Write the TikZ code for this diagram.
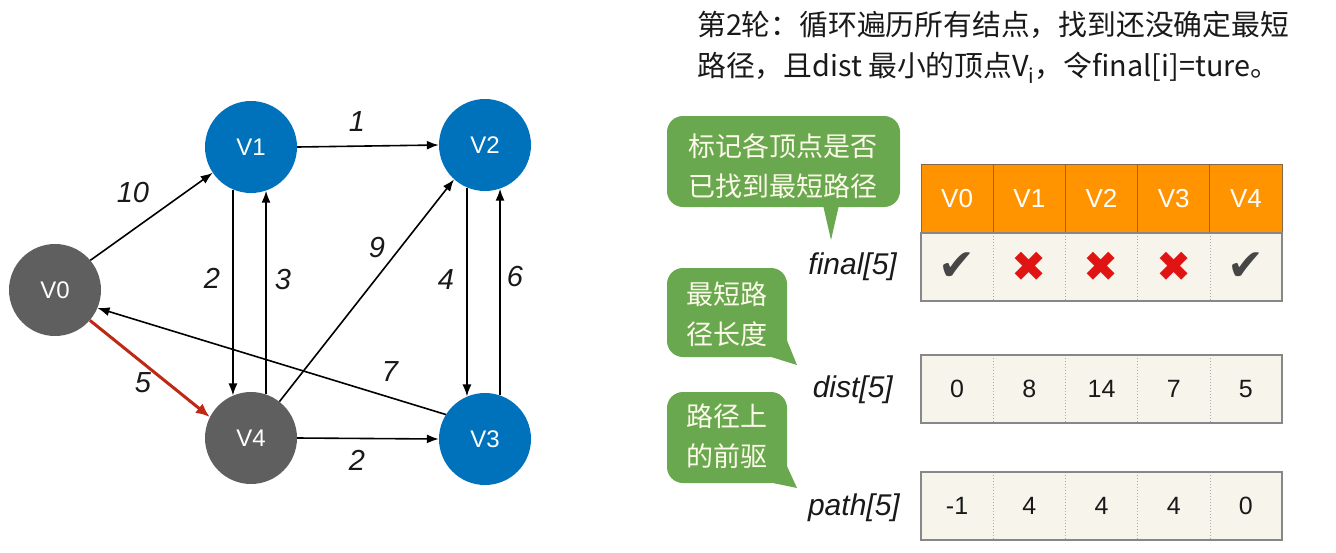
\documentclass[tikz,border=0pt]{standalone}
\usepackage{fontspec}
\setmainfont{Liberation Sans}
\newfontfamily\cjk{Noto Sans CJK SC}
\newfontfamily\symf{DejaVu Sans}
\usetikzlibrary{arrows.meta}
\definecolor{nodeblue}{RGB}{0,114,188}
\definecolor{nodegray}{RGB}{95,95,95}
\definecolor{bubblegreen}{RGB}{106,168,79}
\definecolor{hdrorange}{RGB}{255,147,0}
\definecolor{cellcream}{RGB}{246,244,235}
\definecolor{edgered}{RGB}{190,40,20}
\definecolor{crossred}{RGB}{225,20,20}
\definecolor{checkgray}{RGB}{70,70,70}
\definecolor{bordergray}{RGB}{135,135,135}
\definecolor{hdrline}{RGB}{130,105,70}
\definecolor{bubbletext}{RGB}{252,250,232}
\definecolor{inktext}{RGB}{25,25,25}
\begin{document}
\begin{tikzpicture}[x=1pt,y=-1pt,
 vtx/.style={circle,minimum size=92pt,inner sep=0pt,text=white,font=\fontsize{24}{24}\selectfont},
 bluev/.style={vtx,fill=nodeblue},
 grayv/.style={vtx,fill=nodegray},
 edge/.style={-{Latex[length=12pt,width=9pt]},line width=1.6pt,black},
 rededge/.style={-{Latex[length=14pt,width=12pt]},line width=3pt,edgered},
 wlabel/.style={font=\fontsize{29}{29}\selectfont\itshape,text=inktext,inner sep=0pt},
 cell/.style={minimum width=72.2pt,minimum height=68pt,inner sep=0pt,font=\fontsize{25}{25}\selectfont,text=inktext},
 hcell/.style={cell,fill=hdrorange,draw=hdrline,line width=1pt,text=white,font=\fontsize{26}{26}\selectfont},
 rcell/.style={cell,fill=cellcream},
 sep/.style={draw=bordergray!70,line width=1pt,dotted},
 border/.style={draw=bordergray,line width=1.5pt},
 arrlabel/.style={font=\fontsize{30}{30}\selectfont\itshape,text=inktext,anchor=east,inner sep=0pt},
 bubble/.style={fill=bubblegreen,rounded corners=16pt},
 btext/.style={font=\cjk\fontsize{27}{40}\selectfont,text=bubbletext,align=center,inner sep=0pt},
 chk/.style={font=\symf\fontsize{44}{44}\selectfont,text=checkgray},
 crs/.style={font=\symf\fontsize{42}{42}\selectfont,text=crossred},
 ttl/.style={font=\cjk\fontsize{28.8}{28.8}\selectfont,text=inktext,anchor=west,inner sep=0pt},
]
\fill[white] (0,0) rectangle (1336,552);
\useasboundingbox (0,0) rectangle (1336,552);

% ---- graph ----
\node[grayv] (V0) at (55,290) {V0};
\node[bluev] (V1) at (251,147) {V1};
\node[bluev] (V2) at (485,145) {V2};
\node[bluev] (V3) at (485,439) {V3};
\node[grayv] (V4) at (251,438) {V4};

\draw[edge] (V0.40) -- (V1.-146);
\draw[edge] (V1.east) -- (V2.west);
\draw[edge] (V1.-113) -- (V4.113);
\draw[edge] (V4.71) -- (V1.-71);
\draw[edge] (V4.52) -- (V2.-132);
\draw[edge] (V2.-113) -- (V3.113);
\draw[edge] (V3.71) -- (V2.-71);
\draw[edge] (V3.148) -- (V0.-23);
\draw[edge] (V4.east) -- (V3.west);
\draw[rededge] (V0.-41) -- (V4.153);

\node[wlabel] (l01) at (133,193) {10};
\node[wlabel] (l12) at (357,122) {1};
\node[wlabel] (l14) at (212,278) {2};
\node[wlabel] (l41) at (283,280) {3};
\node[wlabel] (l42) at (377,248) {9};
\node[wlabel] (l23) at (446,280) {4};
\node[wlabel] (l32) at (515,277) {6};
\node[wlabel] (l30) at (390,372) {7};
\node[wlabel] (l04) at (143,383) {5};
\node[wlabel] (l43) at (357,460) {2};

% ---- title ----
\node[ttl] (t1) at (697,25) {第2轮：循环遍历所有结点，找到还没确定最短};
\node[ttl] (t2) at (697,68) {路径，且dist 最小的顶点V\textsubscript{i}，令final[i]=ture。};

% ---- bubbles ----
\fill[bubble] (667,116) rectangle (900,207);
\fill[bubblegreen] (823,205) -- (839,205) -- (831,240) -- cycle;
\node[btext] (b1) at (783,166) {标记各顶点是否\\已找到最短路径};

\fill[bubble] (667,268) rectangle (787,357);
\fill[bubblegreen] (768,356) -- (786,338) -- (797,365) -- cycle;
\node[btext] (b2) at (727,314) {最短路\\径长度};

\fill[bubble] (667,392) rectangle (787,483);
\fill[bubblegreen] (768,482) -- (786,464) -- (797,488) -- cycle;
\node[btext] (b3) at (727,436) {路径上\\的前驱};

% ---- table ----
\node[hcell] (h0) at (957.1,198.5) {V0};
\node[hcell] (h1) at (1029.3,198.5) {V1};
\node[hcell] (h2) at (1101.5,198.5) {V2};
\node[hcell] (h3) at (1173.7,198.5) {V3};
\node[hcell] (h4) at (1245.9,198.5) {V4};

\node[rcell] (f0) at (957.1,267) {};
\node[rcell] (f1) at (1029.3,267) {};
\node[rcell] (f2) at (1101.5,267) {};
\node[rcell] (f3) at (1173.7,267) {};
\node[rcell] (f4) at (1245.9,267) {};
\node[chk] (c0) at (f0) {✔};
\node[crs] (c1) at (f1) {✖};
\node[crs] (c2) at (f2) {✖};
\node[crs] (c3) at (f3) {✖};
\node[chk] (c4) at (f4) {✔};

\node[rcell] (d0) at (957.1,389) {0};
\node[rcell] (d1) at (1029.3,389) {8};
\node[rcell] (d2) at (1101.5,389) {14};
\node[rcell] (d3) at (1173.7,389) {7};
\node[rcell] (d4) at (1245.9,389) {5};

\node[rcell] (p0) at (957.1,506) {-1};
\node[rcell] (p1) at (1029.3,506) {4};
\node[rcell] (p2) at (1101.5,506) {4};
\node[rcell] (p3) at (1173.7,506) {4};
\node[rcell] (p4) at (1245.9,506) {0};

\foreach \r in {f,d,p}{
  \foreach \i in {0,1,2,3}{
    \draw[sep] (\r\i.north east) -- (\r\i.south east);
  }
  \draw[border] (\r0.north west) rectangle (\r4.south east);
}
\draw[hdrline,line width=1pt] (h0.north west) -- (h4.north east);

\node[arrlabel] (lf) at (897,267) {final[5]};
\node[arrlabel] (ld) at (893,390) {dist[5]};
\node[arrlabel] (lp) at (900,508) {path[5]};
\end{tikzpicture}
\end{document}
